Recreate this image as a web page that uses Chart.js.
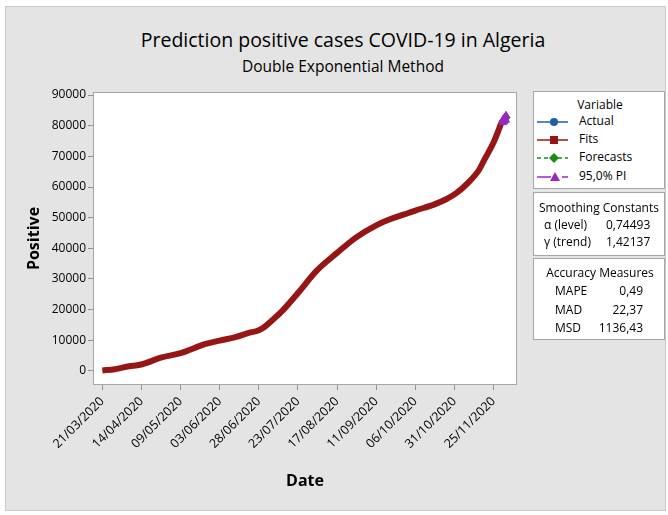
<!DOCTYPE html>
<html>
<head>
<meta charset="utf-8">
<script src="https://cdn.jsdelivr.net/npm/chart.js@4.4.0/dist/chart.umd.min.js"></script>
<style>
    body { margin: 0; background: #fff; font-family: 'Open Sans', sans-serif; }
    #wrap { position: relative; width: 668px; height: 515px; overflow: hidden; }
    #panel { position: absolute; left: 5px; top: 6px; width: 661px; height: 505px; background: #e4e4e4; border: 1px solid #c9c9c9; box-sizing: border-box; }
    #chart { position: absolute; left: 0; top: 0; }
    .title { position: absolute; left: 0; width: 686px; text-align: center; color: #000; white-space: nowrap; }
    .box { position: absolute; left: 533px; width: 132px; background: #fff; border: 1px solid #a6a6a6; box-sizing: border-box; }
    .box svg { position: absolute; left: -1px; top: -1px; }
    .box text { font-family: 'Open Sans', sans-serif; font-size: 12px; fill: #000; dominant-baseline: middle; }
</style>
</head>
<body>
<div id="wrap">
    <div id="panel"></div>
    <div class="title" style="top:26px;font-size:19.5px;">Prediction positive cases COVID-19 in Algeria</div>
    <div class="title" style="top:55px;font-size:15.5px;">Double Exponential Method</div>
    <canvas id="chart" width="668" height="515"></canvas>

    <!-- Variable legend -->
    <div class="box" style="top:91px;height:98px;">
        <svg width="132" height="98">
            <text x="67" y="15" text-anchor="middle">Variable</text>
            <line x1="4" y1="31" x2="35" y2="31" stroke="#1f5fa8" stroke-width="1.5"/>
            <circle cx="21" cy="31" r="4" fill="#1f5fa8"/>
            <text x="46" y="31">Actual</text>
            <line x1="4" y1="49" x2="35" y2="49" stroke="#961616" stroke-width="1.5"/>
            <rect x="17" y="45" width="8" height="8" fill="#961616"/>
            <text x="46" y="49">Fits</text>
            <line x1="4" y1="67" x2="35" y2="67" stroke="#1a8a1a" stroke-width="1.5" stroke-dasharray="4,3"/>
            <polygon points="21,62 26,67 21,72 16,67" fill="#1a8a1a"/>
            <text x="46" y="67">Forecasts</text>
            <line x1="4" y1="86" x2="18" y2="86" stroke="#9b27c2" stroke-width="1.5"/>
            <line x1="29" y1="86" x2="35" y2="86" stroke="#9b27c2" stroke-width="1.5"/>
            <polygon points="22,81 27,90 17,90" fill="#9b27c2"/>
            <text x="46" y="86">95,0% PI</text>
        </svg>
    </div>

    <!-- Smoothing constants -->
    <div class="box" style="top:192px;height:64px;">
        <svg width="132" height="64">
            <text x="66" y="17" text-anchor="middle">Smoothing Constants</text>
            <text x="11" y="34">α (level)</text>
            <text x="73" y="34">0,74493</text>
            <text x="11" y="51">γ (trend)</text>
            <text x="73" y="51">1,42137</text>
        </svg>
    </div>

    <!-- Accuracy measures -->
    <div class="box" style="top:258px;height:82px;">
        <svg width="132" height="82">
            <text x="67" y="16" text-anchor="middle">Accuracy Measures</text>
            <text x="22" y="34">MAPE</text>
            <text x="110" y="34" text-anchor="end">0,49</text>
            <text x="22" y="53">MAD</text>
            <text x="110" y="53" text-anchor="end">22,37</text>
            <text x="22" y="71">MSD</text>
            <text x="110" y="71" text-anchor="end">1136,43</text>
        </svg>
    </div>
</div>

<script>
// values (x = day number from 21/03/2020)
const dayIndex = [0, 8, 17, 24, 38, 50, 66, 75, 85, 93, 100, 104, 108, 115, 125, 137, 150, 162, 175, 183, 196, 200, 213, 220, 226, 234, 241, 244, 250, 255];
const actualValues = [140, 550, 1500, 2000, 4400, 5800, 8800, 9900, 11000, 12300, 13300, 14500, 16300, 19600, 25400, 32700, 38500, 43500, 47500, 49300, 51600, 52300, 54500, 56100, 57900, 61500, 65800, 68800, 74500, 80900];
const fitsValues = [140, 550, 1500, 2000, 4400, 5800, 8800, 9900, 11000, 12300, 13300, 14500, 16300, 19600, 25400, 32700, 38500, 43500, 47500, 49300, 51600, 52300, 54500, 56100, 57900, 61500, 65800, 68800, 74500, 80900];

const forecastIndex = [256, 257, 258];
const forecastValues = [81500, 82000, 82600];
const lowerPI = [81000, 81300, 81800];
const upperPI = [82000, 82700, 83400];

const dateTickIndex = [0, 25, 50, 75, 100, 125, 150, 175, 200, 225, 250];
const dateTickLabels = ['21/03/2020', '14/04/2020', '09/05/2020', '03/06/2020', '28/06/2020', '23/07/2020',
    '17/08/2020', '11/09/2020', '06/10/2020', '31/10/2020', '25/11/2020'];
const yTickValues = [0, 10000, 20000, 30000, 40000, 50000, 60000, 70000, 80000, 90000];

function toPoints(xs, ys) {
    return xs.map((x, i) => ({ x: x, y: ys[i] }));
}

// white plot area with a grey frame
const plotFrame = {
    id: 'plotFrame',
    beforeDraw(chart) {
        const a = chart.chartArea;
        chart.ctx.save();
        chart.ctx.fillStyle = '#ffffff';
        chart.ctx.fillRect(a.left, a.top, a.right - a.left, a.bottom - a.top);
        chart.ctx.restore();
    },
    afterDraw(chart) {
        const a = chart.chartArea;
        chart.ctx.save();
        chart.ctx.strokeStyle = '#a6a6a6';
        chart.ctx.lineWidth = 1;
        chart.ctx.strokeRect(a.left + 0.5, a.top + 0.5, a.right - a.left - 1, a.bottom - a.top - 1);
        chart.ctx.restore();
    }
};

const tickFont = { family: "'Open Sans', sans-serif", size: 12 };
const titleFont = { family: "'Open Sans', sans-serif", size: 16, weight: 'bold' };

new Chart(document.getElementById('chart').getContext('2d'), {
    type: 'line',
    data: {
        datasets: [{
            label: 'Upper PI',
            data: toPoints(forecastIndex, upperPI),
            showLine: false,
            pointStyle: 'triangle',
            pointRadius: 4,
            backgroundColor: '#9b27c2',
            borderColor: '#9b27c2'
        }, {
            label: 'Lower PI',
            data: toPoints(forecastIndex, lowerPI),
            showLine: false,
            pointStyle: 'triangle',
            pointRadius: 4,
            backgroundColor: '#9b27c2',
            borderColor: '#9b27c2'
        }, {
            label: 'Forecasts',
            data: toPoints(forecastIndex, forecastValues),
            showLine: false,
            pointStyle: 'rectRot',
            pointRadius: 4,
            backgroundColor: '#1a8a1a',
            borderColor: '#1a8a1a'
        }, {
            label: 'Fits',
            data: toPoints(dayIndex, fitsValues),
            borderColor: '#961616',
            borderWidth: 6,
            pointRadius: 0,
            cubicInterpolationMode: 'monotone'
        }, {
            label: 'Actual',
            data: toPoints(dayIndex, actualValues),
            borderColor: '#1f5fa8',
            borderWidth: 1.5,
            pointRadius: 0,
            cubicInterpolationMode: 'monotone'
        }]
    },
    options: {
        responsive: false,
        animation: false,
        layout: {
            padding: { left: 0, top: 92, right: 151, bottom: 0 }
        },
        plugins: {
            legend: { display: false },
            tooltip: { enabled: false }
        },
        scales: {
            x: {
                type: 'linear',
                min: -6,
                max: 265,
                afterBuildTicks: function(scale) {
                    scale.ticks = dateTickIndex.map(v => ({ value: v }));
                },
                afterFit: function(scale) {
                    scale.height = 130;
                },
                ticks: {
                    minRotation: 45,
                    maxRotation: 45,
                    padding: 4,
                    color: '#000',
                    font: { family: "'Open Sans', sans-serif", size: 12.5 },
                    callback: function(value, index) {
                        return dateTickLabels[index];
                    }
                },
                grid: {
                    drawOnChartArea: false,
                    tickLength: 5,
                    color: '#909090'
                },
                border: { display: false },
                title: {
                    display: true,
                    text: 'Date',
                    color: '#000',
                    font: titleFont,
                    padding: 24
                }
            },
            y: {
                type: 'linear',
                min: -4600,
                max: 91000,
                afterBuildTicks: function(scale) {
                    scale.ticks = yTickValues.map(v => ({ value: v }));
                },
                afterFit: function(scale) {
                    scale.width = 93;
                },
                ticks: {
                    padding: 2,
                    color: '#000',
                    font: tickFont,
                    callback: function(value) {
                        return String(value);
                    }
                },
                grid: {
                    drawOnChartArea: false,
                    tickLength: 5,
                    color: '#909090'
                },
                border: { display: false },
                title: {
                    display: true,
                    text: 'Positive',
                    color: '#000',
                    font: titleFont,
                    padding: 25
                }
            }
        }
    },
    plugins: [plotFrame]
});
</script>
</body>
</html>
